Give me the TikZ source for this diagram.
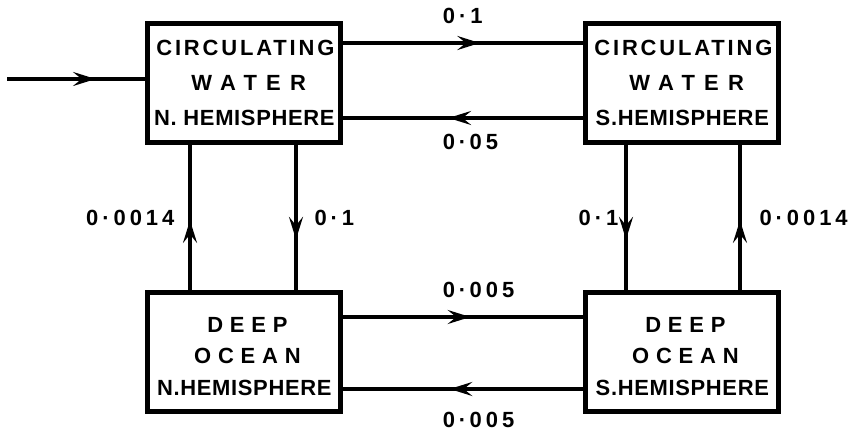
\documentclass[tikz,border=0pt]{standalone}
\usepackage{fontspec}
\setmainfont{Liberation Sans}
\newfontface\wideA[LetterSpace=13]{Liberation Sans Bold}
\newfontface\wideB[LetterSpace=42]{Liberation Sans Bold}
\newfontface\wideD[LetterSpace=31]{Liberation Sans Bold}
\newfontface\wideC[LetterSpace=3]{Liberation Sans Bold}
\newfontface\numface[LetterSpace=18]{Liberation Sans Bold}
\newcommand{\spA}[1]{{\wideA #1\kern-.13em}}
\newcommand{\spB}[1]{{\wideB #1\kern-.42em}}
\newcommand{\spD}[1]{{\wideD #1\kern-.31em}}
\newcommand{\spC}[1]{{\wideC #1\kern-.03em}}
\newcommand{\rate}[1]{{\numface #1\kern-.18em}}
\usetikzlibrary{arrows.meta,positioning,decorations.markings}

\begin{document}
\begin{tikzpicture}[x=0.02cm, y=-0.02cm,
  box/.style={draw, line width=2.4pt, minimum width=3.86cm, minimum height=2.38cm,
    inner sep=1pt, align=center, font=\fontsize{12.5}{19.9}\selectfont},
  arr/.style={line width=1.8pt, postaction={decorate}, decoration={markings,
    mark=at position #1 with {\arrow{Stealth[length=4.5mm, width=2.8mm, inset=1.7mm]}}}},
  arr/.default=0.55,
  lab/.style={font=\fontsize{12.5}{14}\selectfont, inner sep=0pt}]
\useasboundingbox (0,0) rectangle (850,435);
\node[box] (cwn) at (244,83) {\spA{CIRCULATING}\\\spB{WATER}\\\spC{N. HEMISPHERE}};
\node[box] (cws) at (682,83) {\spA{CIRCULATING}\\\spB{WATER}\\\spC{S.HEMISPHERE}};
\node[box, font=\fontsize{12.5}{18}\selectfont] (don) at (244,352) {\rule{0pt}{13.5pt}\spD{DEEP}\\\spD{OCEAN}\\\spC{N.HEMISPHERE}};
\node[box, font=\fontsize{12.5}{18}\selectfont] (dos) at (682,352) {\rule{0pt}{13.5pt}\spD{DEEP}\\\spD{OCEAN}\\\spC{S.HEMISPHERE}};
\coordinate (in) at (7,79);
% surface exchange
\draw[arr=0.64] (in) -- (in -| cwn.west);
\draw[arr=0.57] ([yshift=0.8cm]cwn.east) -- node[lab, pos=0.41, anchor=south west, yshift=0.36cm]{\rate{0·1}} ([yshift=0.8cm]cws.west);
\draw[arr=0.56] ([yshift=-0.7cm]cws.west) -- node[lab, pos=0.59, anchor=north west, yshift=-0.3cm]{\rate{0\,·\,05}} ([yshift=-0.7cm]cwn.east);
% deep exchange
\draw[arr=0.53] ([yshift=0.7cm]don.east) -- node[lab, pos=0.41, anchor=south west, yshift=0.36cm]{\rate{0\,·\,005}} ([yshift=0.7cm]dos.west);
\draw[arr=0.555] ([yshift=-0.74cm]dos.west) -- node[lab, pos=0.59, anchor=north west, yshift=-0.44cm]{\rate{0\,·\,005}} ([yshift=-0.74cm]don.east);
% vertical mixing
\draw[arr=0.48] ([xshift=-1.08cm]don.north) -- node[lab, left=0.36cm]{\rate{0·0014}} ([xshift=-1.08cm]cwn.south);
\draw[arr=0.65] ([xshift=1.04cm]cwn.south) -- node[lab, right=0.34cm]{\rate{0·1}} ([xshift=1.04cm]don.north);
\draw[arr=0.65] ([xshift=-1.12cm]cws.south) -- node[lab, left=0.2cm]{\rate{0·1}} ([xshift=-1.12cm]dos.north);
\draw[arr=0.48] ([xshift=1.16cm]dos.north) -- node[lab, right=0.36cm]{\rate{0·0014}} ([xshift=1.16cm]cws.south);
\end{tikzpicture}
\end{document}
